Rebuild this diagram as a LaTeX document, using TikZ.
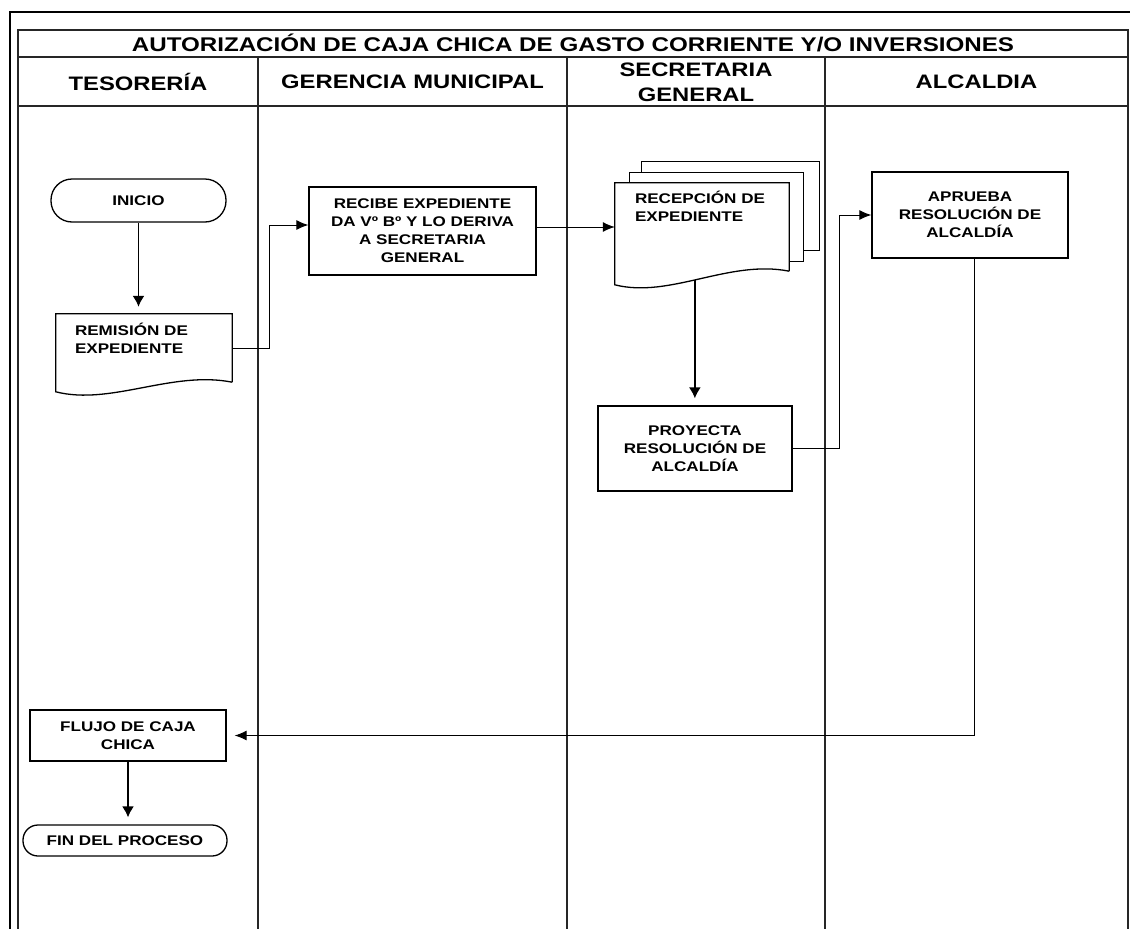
\documentclass[tikz,border=0pt]{standalone}
\usepackage{fontspec}
\setmainfont{Liberation Sans}[FakeStretch=1.22]
\usetikzlibrary{arrows.meta}

\begin{document}
\begin{tikzpicture}[
    x=1pt, y=-1pt, % Flip the y-axis so (0,0) is at top left
    lane/.style={line width=1.4pt, draw=black!85},
    head/.style={align=center, inner sep=0pt, font=\fontsize{19.5}{25}\selectfont\bfseries},
    box/.style={draw, line width=1.3pt, fill=white, align=center, inner sep=0pt,
        font=\fontsize{14}{18}\selectfont\bfseries},
    term/.style={box, rounded corners=#1},
    docframe/.style={inner sep=0pt, draw=none},
    docline/.style={draw, line width=1.3pt, fill=white},
    txt/.style={align=left, inner sep=0pt, font=\fontsize{14}{18}\selectfont\bfseries},
    arr/.style={-{Latex[length=12pt,width=10pt]}, line width=1pt},
    varr/.style={-{Latex[length=11pt,width=12pt]}, line width=1.7pt, shorten >=7pt}
]
\useasboundingbox (0,0) rectangle (1130,929);
% frame and lanes
\draw[line width=2.2pt] (10,929) -- (10,12) -- (1130,12);
\draw[lane] (18,929) -- (18,30) -- (1128,30) -- (1128,929);
\draw[lane] (18,57) -- (1128,57);
\draw[lane] (18,106) -- (1128,106);
\foreach \x in {258,567,825}
    \draw[lane] (\x,57) -- (\x,929);
\node[head, font=\fontsize{19.8}{24}\selectfont\bfseries] (title) at (573,43)
    {AUTORIZACIÓN DE CAJA CHICA DE GASTO CORRIENTE Y/O INVERSIONES};
\node[head] (tes) at (138,82) {TESORERÍA};
\node[head] (ger) at (412.5,82) {GERENCIA MUNICIPAL};
\node[head] (sec) at (696,82) {SECRETARIA\\GENERAL};
\node[head] (alc) at (976.5,82) {ALCALDIA};

% tesoreria
\node[term=21pt, minimum width=175pt, minimum height=43pt] (ini) at (138.5,200.5) {INICIO};
\node[docframe, minimum width=176pt, minimum height=68pt] (rem) at (144,348) {};
\draw[docline] (rem.south east) -- (rem.north east) -- (rem.north west) -- ++(0,78)
    .. controls +(55,14) and +(-60,-12) .. (rem.south east);
\node[txt, anchor=north west] (remtxt) at ([xshift=19pt,yshift=-9pt]rem.north west)
    {REMISIÓN DE\\EXPEDIENTE};
\node[box, minimum width=196pt, minimum height=51pt] (flujo) at (128,735.5) {FLUJO DE CAJA\\CHICA};
\node[term=15pt, minimum width=204pt, minimum height=31pt] (fin) at (125,840.5) {FIN DEL PROCESO};

% gerencia
\node[box, minimum width=227pt, minimum height=88pt] (rcb) at (422.5,231)
    {RECIBE EXPEDIENTE\\DA Vº Bº Y LO DERIVA\\A SECRETARIA\\GENERAL};

% secretaria
\node[docframe, minimum width=174pt, minimum height=88pt] (rec) at (702,227) {};
\draw[docline] ([xshift=27pt,yshift=21pt]rec.north west) rectangle ([xshift=30pt,yshift=21pt]rec.south east);
\draw[docline] ([xshift=15pt,yshift=10pt]rec.north west) rectangle ([xshift=14pt,yshift=10pt]rec.south east);
\draw[docline] (rec.south east) -- (rec.north east) -- (rec.north west) -- ++(0,102)
    .. controls +(55,14) and +(-60,-12) .. (rec.south east) coordinate[pos=0.47] (recbot);
\node[txt, anchor=north west] (rectxt) at ([xshift=20pt,yshift=-8pt]rec.north west)
    {RECEPCIÓN DE\\EXPEDIENTE};
\node[box, minimum width=194pt, minimum height=85pt] (proy) at (695,448.5)
    {PROYECTA\\RESOLUCIÓN DE\\ALCALDÍA};

% alcaldia
\node[box, minimum width=196pt, minimum height=86pt] (apr) at (970,215)
    {APRUEBA\\RESOLUCIÓN DE\\ALCALDÍA};

% connectors
\draw[varr] (ini.south) -- (ini.south |- rem.north);
\draw[arr] (rem.east) -- ++(37,0) |- ([yshift=6pt]rcb.west);
\draw[arr] (rcb.east |- rec.west) -- (rec.west);
\draw[varr] (recbot) -- (recbot |- proy.north);
\draw[arr] (proy.east) -- ++(47,0) |- (apr.west);
\draw[arr, shorten >=8pt] ([xshift=4pt]apr.south) |- (flujo.east);
\draw[varr] (flujo.south) -- (flujo.south |- fin.north);
\end{tikzpicture}
\end{document}
